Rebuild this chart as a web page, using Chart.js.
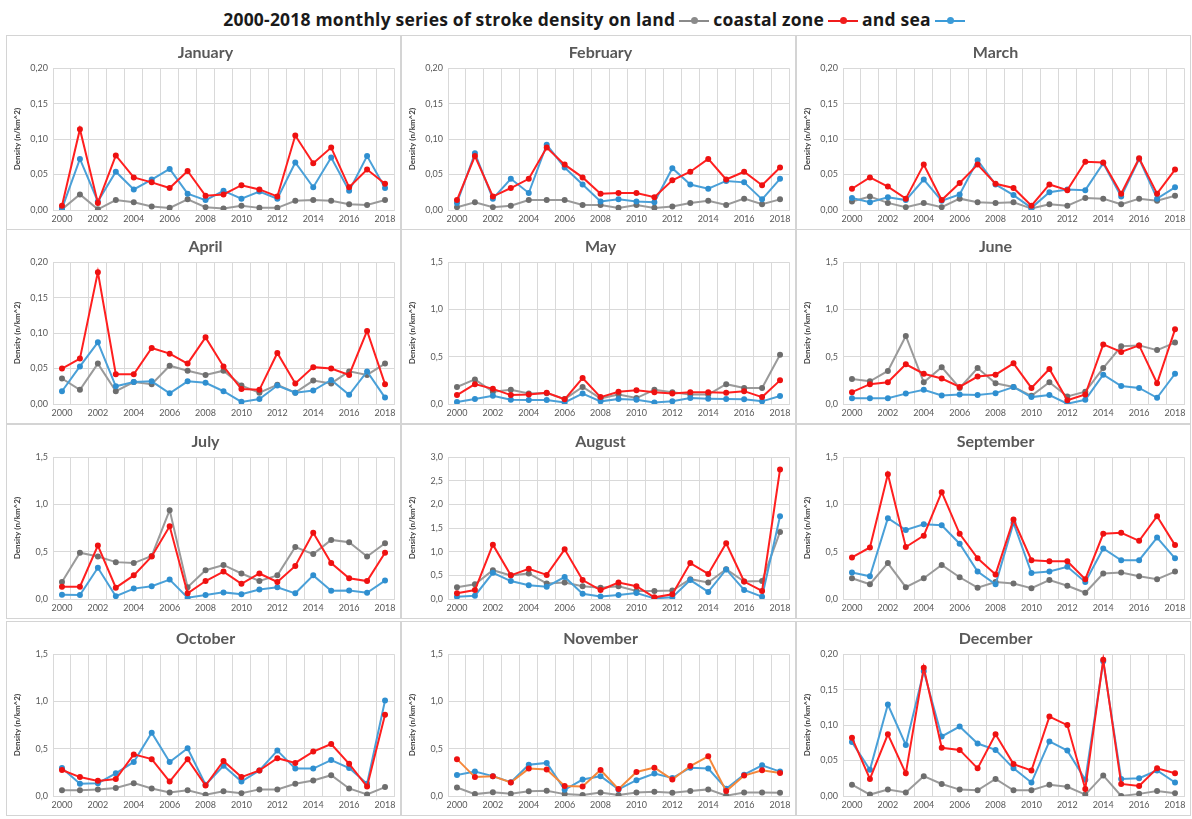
<!DOCTYPE html>
<html>
<head>
<meta charset="utf-8">
<script src="https://cdn.jsdelivr.net/npm/chart.js@4.4.0/dist/chart.umd.min.js"></script>
<style>
  body { margin: 0; background: #fff; width: 1192px; height: 819px; position: relative; overflow: hidden; font-family: Lato, sans-serif; }
  #head { position: absolute; top: 7px; left: 0; width: 1192px; text-align: center; font-family: 'Open Sans', sans-serif; font-weight: bold; font-size: 17.5px; letter-spacing: 0.2px; color: #1a1a1a; white-space: nowrap; }
  .mk { display: inline-block; position: relative; width: 30px; height: 2px; vertical-align: middle; margin: 0 4px; }
  .mk::after { content: ''; position: absolute; left: 12px; top: -3px; width: 7px; height: 7px; border-radius: 50%; background: inherit; }
  .panel { position: absolute; width: 395px; height: 195px; border: 1px solid #d4d4d4; box-sizing: border-box; }
  .panel div { position: absolute; left: 0; top: 0; width: 393px; height: 193px; }
</style>
</head>
<body>
<div id="head">2000-2018 monthly series of stroke density on land<span class="mk" style="background:#8a8a8a"></span>coastal zone<span class="mk" style="background:#f01c1c"></span>and sea<span class="mk" style="background:#3b9bd8"></span></div>

<script>
const years = ['2000','2001','2002','2003','2004','2005','2006','2007','2008','2009',
               '2010','2011','2012','2013','2014','2015','2016','2017','2018'];
const months = ['January','February','March','April','May','June',
                'July','August','September','October','November','December'];
const yMax  = [0.2, 0.2, 0.2, 0.2, 1.5, 1.5, 1.5, 3.0, 1.5, 1.5, 1.5, 0.2];
const yStep = [0.05, 0.05, 0.05, 0.05, 0.5, 0.5, 0.5, 0.5, 0.5, 0.5, 0.5, 0.05];

// land (gray)
const land = [
  [0.001,0.022,0.001,0.014,0.011,0.005,0.003,0.015,0.004,0.002,0.006,0.003,0.003,0.013,0.014,0.013,0.008,0.007,0.014],
  [0.004,0.011,0.004,0.006,0.014,0.014,0.014,0.007,0.007,0.003,0.007,0.003,0.005,0.010,0.013,0.007,0.016,0.008,0.015],
  [0.012,0.019,0.010,0.004,0.010,0.004,0.016,0.011,0.010,0.011,0.002,0.008,0.006,0.017,0.016,0.008,0.016,0.013,0.020],
  [0.036,0.020,0.057,0.018,0.031,0.028,0.054,0.047,0.041,0.047,0.026,0.016,0.027,0.016,0.033,0.029,0.046,0.041,0.057],
  [0.18,0.26,0.13,0.15,0.11,0.115,0.052,0.18,0.06,0.10,0.063,0.15,0.125,0.10,0.10,0.21,0.17,0.17,0.52],
  [0.265,0.24,0.35,0.72,0.23,0.39,0.17,0.38,0.22,0.18,0.087,0.23,0.08,0.13,0.38,0.61,0.62,0.57,0.65],
  [0.18,0.49,0.45,0.39,0.38,0.455,0.94,0.125,0.305,0.36,0.27,0.19,0.25,0.55,0.475,0.625,0.60,0.45,0.59],
  [0.25,0.31,0.61,0.50,0.54,0.33,0.35,0.27,0.24,0.27,0.17,0.17,0.18,0.42,0.35,0.63,0.37,0.38,1.42],
  [0.22,0.156,0.38,0.125,0.22,0.36,0.23,0.12,0.18,0.163,0.115,0.20,0.14,0.066,0.27,0.28,0.24,0.21,0.29],
  [0.06,0.06,0.07,0.084,0.136,0.08,0.038,0.06,0.014,0.05,0.03,0.07,0.07,0.13,0.164,0.22,0.08,0.017,0.094],
  [0.09,0.02,0.04,0.024,0.05,0.056,0.02,0.01,0.038,0.01,0.038,0.045,0.035,0.052,0.07,0.003,0.038,0.038,0.035],
  [0.016,0.002,0.009,0.005,0.028,0.017,0.009,0.008,0.024,0.008,0.008,0.016,0.013,0.002,0.029,0.000,0.003,0.007,0.004]
];

// coastal zone (red)
const coastal = [
  [0.006,0.114,0.010,0.077,0.046,0.039,0.031,0.055,0.020,0.022,0.035,0.029,0.019,0.105,0.066,0.088,0.032,0.057,0.037],
  [0.014,0.076,0.019,0.031,0.044,0.088,0.064,0.046,0.023,0.024,0.024,0.018,0.042,0.054,0.072,0.043,0.054,0.035,0.060],
  [0.030,0.046,0.033,0.016,0.064,0.014,0.038,0.064,0.037,0.031,0.006,0.036,0.028,0.068,0.067,0.023,0.073,0.023,0.057],
  [0.050,0.064,0.186,0.042,0.042,0.079,0.071,0.057,0.094,0.053,0.021,0.020,0.072,0.029,0.052,0.050,0.041,0.103,0.028],
  [0.094,0.21,0.16,0.094,0.10,0.12,0.05,0.275,0.073,0.13,0.146,0.125,0.11,0.125,0.125,0.12,0.136,0.073,0.25],
  [0.125,0.21,0.23,0.42,0.32,0.27,0.18,0.29,0.31,0.43,0.17,0.37,0.04,0.10,0.63,0.55,0.62,0.22,0.79],
  [0.13,0.13,0.566,0.12,0.25,0.45,0.77,0.06,0.19,0.29,0.16,0.27,0.18,0.35,0.70,0.38,0.22,0.19,0.49],
  [0.12,0.19,1.15,0.50,0.64,0.51,1.05,0.40,0.19,0.35,0.27,0.035,0.10,0.76,0.53,1.18,0.37,0.17,2.74],
  [0.44,0.545,1.32,0.55,0.67,1.13,0.69,0.43,0.26,0.84,0.41,0.40,0.40,0.21,0.69,0.70,0.615,0.875,0.57],
  [0.275,0.20,0.16,0.18,0.44,0.39,0.153,0.39,0.11,0.37,0.20,0.27,0.40,0.35,0.47,0.55,0.34,0.10,0.86],
  [0.39,0.20,0.21,0.143,0.29,0.28,0.105,0.10,0.275,0.073,0.254,0.30,0.174,0.317,0.42,0.052,0.216,0.272,0.244],
  [0.082,0.024,0.087,0.032,0.181,0.068,0.065,0.039,0.087,0.045,0.036,0.112,0.100,0.010,0.192,0.017,0.014,0.039,0.032]
];

// sea (blue)
const sea = [
  [0.002,0.072,0.012,0.054,0.029,0.043,0.058,0.023,0.014,0.027,0.016,0.026,0.016,0.067,0.032,0.074,0.027,0.076,0.031],
  [0.010,0.080,0.016,0.044,0.024,0.092,0.060,0.036,0.012,0.015,0.012,0.011,0.059,0.036,0.030,0.041,0.039,0.015,0.044],
  [0.017,0.011,0.018,0.014,0.043,0.013,0.022,0.070,0.036,0.021,0.003,0.025,0.029,0.028,0.066,0.019,0.072,0.016,0.032],
  [0.018,0.053,0.087,0.025,0.031,0.032,0.015,0.032,0.030,0.018,0.003,0.007,0.026,0.016,0.019,0.034,0.013,0.046,0.009],
  [0.02,0.052,0.087,0.045,0.042,0.042,0.017,0.11,0.028,0.052,0.045,0.017,0.028,0.063,0.056,0.052,0.049,0.028,0.084],
  [0.06,0.06,0.06,0.11,0.15,0.09,0.10,0.095,0.115,0.18,0.073,0.095,0.003,0.045,0.31,0.19,0.17,0.066,0.32],
  [0.045,0.042,0.33,0.03,0.11,0.135,0.205,0.014,0.042,0.07,0.05,0.10,0.125,0.06,0.25,0.087,0.09,0.066,0.195],
  [0.05,0.07,0.555,0.38,0.29,0.26,0.465,0.11,0.055,0.083,0.125,0.014,0.035,0.40,0.15,0.625,0.19,0.05,1.75],
  [0.28,0.24,0.855,0.73,0.79,0.78,0.585,0.29,0.156,0.805,0.275,0.29,0.34,0.18,0.535,0.41,0.41,0.65,0.43],
  [0.295,0.13,0.135,0.24,0.36,0.67,0.36,0.505,0.12,0.32,0.153,0.27,0.48,0.29,0.29,0.38,0.295,0.13,1.01],
  [0.223,0.258,0.21,0.146,0.33,0.35,0.066,0.174,0.21,0.07,0.167,0.237,0.19,0.30,0.29,0.077,0.226,0.324,0.258],
  [0.076,0.037,0.129,0.072,0.176,0.084,0.098,0.074,0.065,0.039,0.019,0.077,0.064,0.023,0.190,0.024,0.025,0.036,0.019]
];

const lefts = [6, 401, 796];
const tops = [35, 229, 424, 621];
const gridColor = '#d9d9d9';
const tickColor = '#595959';

months.forEach((name, m) => {
  const panel = document.createElement('div');
  panel.className = 'panel';
  panel.style.left = lefts[m % 3] + 'px';
  panel.style.top = tops[Math.floor(m / 3)] + 'px';
  const box = document.createElement('div');
  const canvas = document.createElement('canvas');
  box.appendChild(canvas);
  panel.appendChild(box);
  document.body.appendChild(panel);

  const dec = yMax[m] < 1 ? 2 : 1;

  new Chart(canvas.getContext('2d'), {
    type: 'line',
    data: {
      labels: years,
      datasets: [
        {
          label: 'coastal zone',
          data: coastal[m],
          borderColor: m === 10 ? '#f5883a' : '#ff1f1f',
          pointBackgroundColor: '#ee1111',
          pointBorderColor: '#ee1111',
          borderWidth: 2,
          pointRadius: 2,
          order: 0
        },
        {
          label: 'sea',
          data: sea[m],
          borderColor: '#4aa0d8',
          pointBackgroundColor: '#2f8fd0',
          pointBorderColor: '#2f8fd0',
          borderWidth: 2,
          pointRadius: 2,
          order: 1
        },
        {
          label: 'land',
          data: land[m],
          borderColor: '#9a9a9a',
          pointBackgroundColor: '#6e6e6e',
          pointBorderColor: '#6e6e6e',
          borderWidth: 2,
          pointRadius: 2,
          order: 2
        }
      ]
    },
    options: {
      responsive: true,
      maintainAspectRatio: false,
      animation: false,
      layout: { padding: { top: 0, right: 2, bottom: 3, left: 6 } },
      plugins: {
        legend: { display: false },
        tooltip: { enabled: false },
        title: {
          display: true,
          text: name,
          color: '#595959',
          font: { family: 'Lato', size: 16, weight: 'bold' },
          padding: { top: 7, bottom: 6 }
        }
      },
      scales: {
        x: {
          offset: true,
          grid: { color: gridColor, offset: true, drawTicks: false },
          border: { color: gridColor },
          ticks: {
            color: tickColor,
            font: { family: 'Lato', size: 9 },
            autoSkip: false,
            maxRotation: 0,
            padding: 4,
            callback: function(v, i) { return i % 2 === 0 ? years[i] : ''; }
          },
          afterFit: function(s) { s.height = 16; }
        },
        y: {
          min: 0,
          max: yMax[m],
          grid: { color: gridColor, drawTicks: false },
          border: { display: false },
          ticks: {
            stepSize: yStep[m],
            color: tickColor,
            font: { family: 'Lato', size: 9 },
            padding: 5,
            callback: function(v) { return v.toFixed(dec).replace('.', ','); }
          },
          title: {
            display: true,
            text: 'Density (n/km^2)',
            color: '#404040',
            font: { family: 'Lato', size: 8, weight: 'bold' },
            padding: { top: 0, bottom: 2 }
          },
          afterFit: function(s) { s.width = 40; }
        }
      }
    }
  });
});
</script>
</body>
</html>
